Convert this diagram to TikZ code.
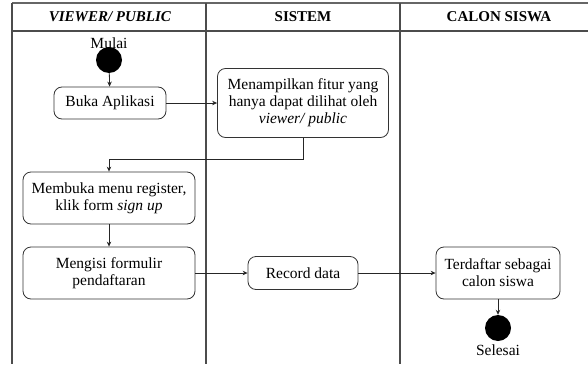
\documentclass[tikz,border=0pt]{standalone}
\usepackage{fontspec}
\setmainfont{Liberation Serif}
\usetikzlibrary{arrows.meta}
\begin{document}
\begin{tikzpicture}[x=1pt,y=-1pt,
  lane/.style={draw=black!70,line width=1.1pt},
  act/.style={draw=black!80,line width=0.8pt,rounded corners=8pt,align=center,
    inner sep=0pt,font=\fontsize{15.5}{17}\selectfont},
  lbl/.style={font=\fontsize{15.5}{17}\selectfont,inner sep=0pt},
  hdr/.style={font=\fontsize{15}{17}\selectfont\bfseries,inner sep=0pt},
  dot/.style={circle,fill=black,minimum size=26pt,inner sep=0pt},
  flow/.style={draw=black!85,line width=0.8pt,-{Stealth[length=5pt,width=4.5pt]}}]
\useasboundingbox (0,0) rectangle (588,364);
% swimlane frame
\draw[lane,draw=black!60,line width=1.6pt] (12,3) -- (588,3);
\draw[lane] (12,31) -- (588,31);
\draw[lane] (12,3) -- (12,364);
\draw[lane] (206,3) -- (206,364);
\draw[lane] (400,3) -- (400,364);
% headers
\node[hdr] (h1) at (110,17) {\textit{VIEWER/ PUBLIC}};
\node[hdr] (h2) at (303,17) {SISTEM};
\node[hdr] (h3) at (499,17) {CALON SISWA};
% start
\node[dot] (start) at (109,60) {};
\node[lbl] (mulai) at (109,43) {Mulai};
% activities
\node[act,minimum width=112pt,minimum height=32pt] (buka) at (110,103) {Buka Aplikasi};
\node[act,minimum width=171pt,minimum height=69pt] (tampil) at (303,103)
  {Menampilkan fitur yang\\hanya dapat dilihat oleh\\\textit{viewer/ public}};
\node[act,minimum width=172pt,minimum height=52pt] (membuka) at (109,198)
  {Membuka menu register,\\klik form \textit{sign up}};
\node[act,minimum width=172pt,minimum height=52pt] (mengisi) at (109,273)
  {Mengisi formulir\\pendaftaran};
\node[act,minimum width=110pt,minimum height=33pt] (record) at (303,273) {Record data};
\node[act,minimum width=124pt,minimum height=52pt] (daftar) at (498,273)
  {Terdaftar sebagai\\calon siswa};
% end
\node[dot] (end) at (498,328) {};
\node[lbl] (selesai) at (498,350) {Selesai};
% flows
\draw[flow] (start) -- (buka);
\draw[flow] (buka) -- (tampil);
\draw[flow] (tampil.south) -- ++(0,21) -| (membuka.north);
\draw[flow] (membuka) -- (mengisi);
\draw[flow] (mengisi) -- (record);
\draw[flow] (record) -- (daftar);
\draw[flow] (daftar) -- (end);
\end{tikzpicture}
\end{document}
